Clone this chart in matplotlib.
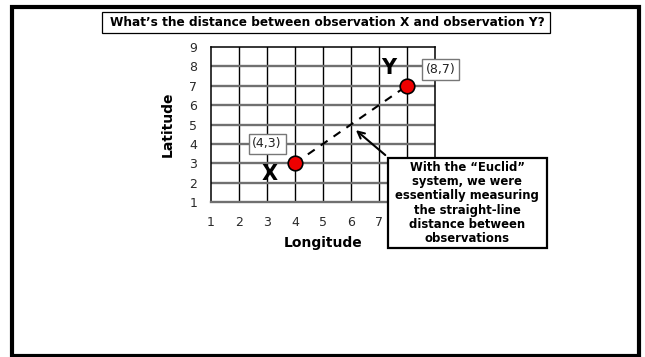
import matplotlib
matplotlib.use("Agg")
import matplotlib.pyplot as plt
from matplotlib.patches import Rectangle

plt.rcParams["font.family"] = ["DejaVu Sans"]

# 观测点
obs_names = ["X", "Y"]
obs_lon = [4, 8]
obs_lat = [3, 7]
coord_labels = ["(4,3)", "(8,7)"]

grid_x = [1, 2, 3, 4, 5, 6, 7, 8, 9]
grid_y = [1, 2, 3, 4, 5, 6, 7, 8, 9]
# 8、9 两个刻度被说明框挡住
x_tick_labels = ["1", "2", "3", "4", "5", "6", "7", "", ""]

title = "What\u2019s the distance between observation X and observation Y?"
note = ("With the \u201cEuclid\u201d\nsystem, we were\nessentially measuring\n"
        "the straight-line\ndistance between\nobservations")

W, H = 645, 357
fig = plt.figure(figsize=(W / 100, H / 100), dpi=100)


def px(x0, y0, w, h):
    """像素坐标(左上角原点) -> figure 坐标"""
    return [x0 / W, 1 - (y0 + h) / H, w / W, h / H]


def frame(x0, y0, w, h, lw, ec="black", z=1):
    r = Rectangle(px(x0, y0, w, h)[:2], w / W, h / H, transform=fig.transFigure,
                  fc="white", ec=ec, lw=lw, zorder=z)
    fig.patches.append(r)


# 外框
fig.patches.append(Rectangle((12 / W, 1 / H), 627 / W, 349 / H,
                             transform=fig.transFigure, fill=False,
                             edgecolor="black", lw=3))

# 标题框
frame(102, 12, 448, 21, 0.9)
fig.text(327 / W, 1 - 22.5 / H, title, ha="center", va="center",
         fontsize=8.7, fontweight="bold")

ax = fig.add_axes(px(211, 47, 224, 155))
ax.set_xlim(1, 9)
ax.set_ylim(1, 9)
ax.set_xticks(grid_x)
ax.set_xticklabels(x_tick_labels)
ax.set_yticks(grid_y)
ax.tick_params(length=0, labelsize=9, pad=10, colors="#2a2a2a")
for v in grid_x[1:-1]:
    ax.axvline(v, color="black", lw=1.0, zorder=1, snap=True)
for v in grid_y[1:-1]:
    ax.axhline(v, color="#707070", lw=1.7, zorder=1)
for s in ["left", "top", "right"]:
    ax.spines[s].set_color("black")
    ax.spines[s].set_linewidth(1.1)
ax.spines["bottom"].set_color("#707070")
ax.spines["bottom"].set_linewidth(1.7)

ax.set_xlabel("Longitude", fontsize=10, fontweight="bold", labelpad=5)
ax.set_ylabel("Latitude", fontsize=10, fontweight="bold", labelpad=10)

# 两点之间的直线距离
ax.plot(obs_lon, obs_lat, color="black", lw=1.5, dashes=(4, 3.5), zorder=3)
ax.scatter(obs_lon, obs_lat, s=110, color="#ee0000", edgecolor="black",
           lw=1.2, zorder=4, clip_on=False)

ax.text(obs_lon[0] - 0.9, obs_lat[0] - 0.55, obs_names[0], fontsize=15,
        fontweight="bold", ha="center", va="center", zorder=5)
ax.text(obs_lon[1] - 0.65, obs_lat[1] + 0.9, obs_names[1], fontsize=15,
        fontweight="bold", ha="center", va="center", zorder=5)

box = dict(boxstyle="square,pad=0.3", fc="white", ec="#777777", lw=1)
ax.text(obs_lon[0] - 1, obs_lat[0] + 1, coord_labels[0], fontsize=9,
        ha="center", va="center", bbox=box, zorder=5, color="#222222")
ax.text(obs_lon[1] + 1.2, obs_lat[1] + 0.85, coord_labels[1], fontsize=9,
        ha="center", va="center", bbox=box, zorder=5, color="#222222",
        clip_on=False)

# 说明框和箭头
ax.annotate("", xy=(6.1, 4.8), xytext=(7.3, 3.33),
            arrowprops=dict(arrowstyle="->", color="black", lw=1.5,
                            mutation_scale=12), zorder=6, annotation_clip=False)
frame(388, 158, 159, 90, 1.6, z=6)
fig.text(467 / W, 1 - 203 / H, note, ha="center", va="center",
         fontsize=8.4, fontweight="bold", linespacing=1.12, zorder=7)

fig.savefig("out.png", dpi=100)
